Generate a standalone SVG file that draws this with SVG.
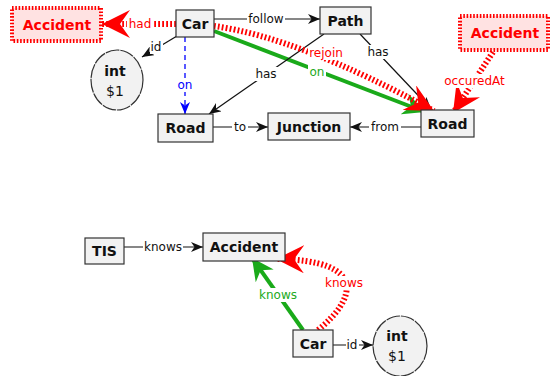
<svg xmlns="http://www.w3.org/2000/svg" width="551" height="376" viewBox="0 0 551 376">
<style>
.box{fill:#f2f2f2;stroke:#333;stroke-width:1.2}
.ell{fill:#f2f2f2;stroke:#333;stroke-width:1.2;stroke-dasharray:14 1}
.rbox{fill:#ffe2e2;stroke:#ff0000;stroke-width:4;stroke-dasharray:1.6 1.7}
.nt{font-family:"DejaVu Sans",Verdana,sans-serif;font-size:14px;font-weight:bold;fill:#111;text-anchor:middle}
.rt{font-family:"DejaVu Sans",Verdana,sans-serif;font-size:14px;font-weight:bold;fill:#ff0000;text-anchor:middle}
.vt{font-family:"DejaVu Sans",Verdana,sans-serif;font-size:14px;fill:#111;text-anchor:middle}
.lb{font-family:"DejaVu Sans",Verdana,sans-serif;font-size:12px;fill:#111;text-anchor:middle}
.lr{fill:#ff0000}
.lg{fill:#22aa22}
.lbl{fill:#0000ff}
.bg{fill:#fff}
.k{fill:none;stroke:#111;stroke-width:1.2}
.r{fill:none;stroke:#ff0000;stroke-width:6;stroke-dasharray:1.8 2.2}
.g{fill:none;stroke:#1aaa1a;stroke-width:4}
.b{fill:none;stroke:#0000ff;stroke-width:1.3;stroke-dasharray:5 4}
</style>
<defs>
<marker id="ak" viewBox="0 0 12 10" refX="12" refY="5" markerWidth="12" markerHeight="10" markerUnits="userSpaceOnUse" orient="auto"><path d="M0,0 L12,5 L0,10 L3.5,5 z" fill="#111"/></marker>
<marker id="ab" viewBox="0 0 12 10" refX="12" refY="5" markerWidth="12" markerHeight="10" markerUnits="userSpaceOnUse" orient="auto"><path d="M0,0 L12,5 L0,10 L3.5,5 z" fill="#0000ff"/></marker>
<marker id="ag" viewBox="0 0 22 22" refX="22" refY="11" markerWidth="22" markerHeight="22" markerUnits="userSpaceOnUse" orient="auto"><path d="M0,0 L22,11 L0,22 L7,11 z" fill="#1aaa1a"/></marker>
<marker id="ar" viewBox="0 0 28 28" refX="28" refY="14" markerWidth="28" markerHeight="28" markerUnits="userSpaceOnUse" orient="auto"><path d="M0,0 L28,14 L0,28 L10,14 z" fill="#ff0000"/></marker>
</defs>

<g id="connectors">
<path class="r" d="M176,24 L102,24" marker-end="url(#ar)"/>
<rect class="bg" x="127" y="17" width="26" height="14"/><text class="lb lr" x="140" y="28">had</text>

<path class="k" d="M214,19 L320,19" marker-end="url(#ak)"/>
<rect class="bg" x="247" y="12" width="38" height="14"/><text class="lb" x="266" y="23">follow</text>

<path class="k" d="M177,36 L142,57" marker-end="url(#ak)"/>
<rect class="bg" x="150" y="40" width="13" height="14"/><text class="lb" x="156" y="51">id</text>

<path class="b" d="M185,37 L185,114" marker-end="url(#ab)"/>
<rect class="bg" x="177" y="78" width="17" height="14"/><text class="lb lbl" x="185" y="89">on</text>

<path class="g" d="M214,31 L425,112" marker-end="url(#ag)"/>

<path class="k" d="M324,34 L209,114" marker-end="url(#ak)"/>
<rect class="bg" x="254" y="67" width="24" height="14"/><text class="lb" x="266" y="78">has</text>

<path class="k" d="M360,34 L431,109" marker-end="url(#ak)"/>
<rect class="bg" x="366" y="45" width="24" height="14"/><text class="lb" x="378" y="56">has</text>

<rect class="bg" x="308" y="65" width="18" height="14"/><text class="lb lg" x="317" y="76">on</text>

<path class="r" d="M214,26 Q300,38 434,111" marker-end="url(#ar)"/>
<rect class="bg" x="308" y="46" width="37" height="14"/><text class="lb lr" x="326" y="57">rejoin</text>

<path class="r" d="M493,52 L453,113" marker-end="url(#ar)"/>
<rect class="bg" x="442" y="74" width="65" height="14"/><text class="lb lr" x="474.5" y="85">occuredAt</text>

<path class="k" d="M213,127 L268,127" marker-end="url(#ak)"/>
<rect class="bg" x="232" y="120" width="16" height="14"/><text class="lb" x="240" y="131">to</text>

<path class="k" d="M421,127 L350,127" marker-end="url(#ak)"/>
<rect class="bg" x="369" y="120" width="32" height="14"/><text class="lb" x="385" y="131">from</text>

<path class="k" d="M124,247 L203,247" marker-end="url(#ak)"/>
<rect class="bg" x="143" y="240" width="40" height="14"/><text class="lb" x="163" y="251">knows</text>

<path class="g" d="M303,330 L252,258" marker-end="url(#ag)"/>
<rect class="bg" x="258" y="288" width="41" height="14"/><text class="lb lg" x="278" y="299">knows</text>

<path class="r" d="M318,330 C355,300 370,260 276,259" marker-end="url(#ar)"/>
<rect class="bg" x="324" y="276" width="41" height="14"/><text class="lb lr" x="344" y="287">knows</text>

<path class="k" d="M333,345 L373,345" marker-end="url(#ak)"/>
<rect class="bg" x="346" y="338" width="13" height="14"/><text class="lb" x="352" y="349">id</text>
</g>

<g id="accident-top-left"><rect class="rbox" x="12" y="8" width="89" height="33"/><text class="rt" x="57" y="30">Accident</text></g>
<g id="car-top"><rect class="box" x="176" y="10" width="38" height="27"/><text class="nt" x="195" y="29">Car</text></g>
<g id="path"><rect class="box" x="320" y="7" width="51" height="27"/><text class="nt" x="345.5" y="26">Path</text></g>
<g id="accident-top-right"><rect class="rbox" x="460" y="16" width="88" height="34"/><text class="rt" x="505" y="38">Accident</text></g>
<g id="int-top"><ellipse class="ell" cx="117" cy="80" rx="26" ry="30"/><text class="nt" x="115" y="76">int</text><text class="vt" x="115" y="96">$1</text></g>
<g id="road-left"><rect class="box" x="158" y="114" width="55" height="28"/><text class="nt" x="185.5" y="133">Road</text></g>
<g id="junction"><rect class="box" x="268" y="113" width="82" height="27"/><text class="nt" x="309" y="132">Junction</text></g>
<g id="road-right"><rect class="box" x="421" y="110" width="53" height="27"/><text class="nt" x="447.5" y="129">Road</text></g>

<g id="tis"><rect class="box" x="85" y="238" width="39" height="26"/><text class="nt" x="104.5" y="256">TIS</text></g>
<g id="accident-bottom"><rect class="box" x="203" y="233" width="82" height="28"/><text class="nt" x="244" y="252">Accident</text></g>
<g id="car-bottom"><rect class="box" x="293" y="330" width="40" height="27"/><text class="nt" x="313" y="349">Car</text></g>
<g id="int-bottom"><ellipse class="ell" cx="400" cy="346" rx="27" ry="30"/><text class="nt" x="397" y="341">int</text><text class="vt" x="397" y="361">$1</text></g>
</svg>
